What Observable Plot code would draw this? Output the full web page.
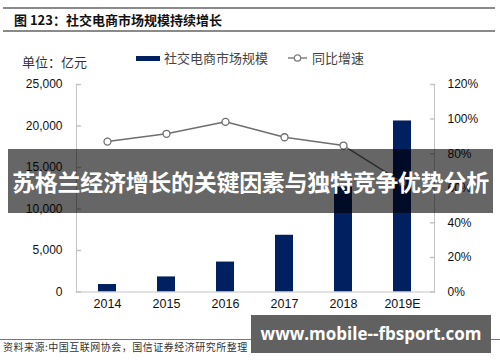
<!DOCTYPE html>
<html>
<head>
<meta charset="utf-8">
<script src="https://cdn.jsdelivr.net/npm/d3@7"></script>
<script src="https://cdn.jsdelivr.net/npm/@observablehq/plot@0.6"></script>
<style>
  html, body { margin: 0; padding: 0; background: #fff; }
  #wrap { position: relative; width: 500px; height: 362px; overflow: hidden; font-family: "Noto Sans CJK SC", sans-serif; }
  #chart { position: absolute; left: 0; top: 0; }
  .abs { position: absolute; white-space: nowrap; }
</style>
</head>
<body>
<div id="wrap">
  <div id="chart"></div>
  <div class="abs" style="left:3px;top:7px;width:492px;height:1.5px;background:#8a8a8a"></div>
  <div class="abs" style="left:3px;top:30px;width:492px;height:1.5px;background:#8a8a8a"></div>
  <div class="abs" id="title" style="left:14px;top:10px;font-size:13px;font-weight:bold;color:#111;line-height:19px"></div>
  <div class="abs" id="unit" style="left:22px;top:53px;font-size:13px;color:#333;line-height:18px"></div>
  <div class="abs" style="left:136px;top:56px;width:24px;height:5px;background:#002060"></div>
  <div class="abs" id="leg1" style="left:164px;top:49px;font-size:13px;color:#444;line-height:18px"></div>
  <svg class="abs" style="left:287px;top:53px" width="22" height="10">
    <line x1="1" y1="5" x2="20" y2="5" stroke="#7f7f7f" stroke-width="1.5"/>
    <circle cx="10.5" cy="5" r="3.2" fill="#fff" stroke="#7f7f7f" stroke-width="1.3"/>
  </svg>
  <div class="abs" id="leg2" style="left:312px;top:49px;font-size:13px;color:#444;line-height:18px"></div>
  <div class="abs" id="band" style="left:8px;top:149px;width:485px;height:64px;background:rgba(0,0,0,0.6);color:#fff;font-weight:bold;font-size:23px;line-height:64px;text-align:center;letter-spacing:-0.3px"></div>
  <div class="abs" style="left:0px;top:339px;width:500px;height:1px;background:#777"></div>
  <div class="abs" id="source" style="left:3px;top:340px;font-size:10px;color:#333;line-height:14px;letter-spacing:0.5px"></div>
  <div class="abs" id="wm" style="left:251px;top:315px;width:240px;height:38px;background:#616161;color:#fff;font-family:'Open Sans',sans-serif;font-weight:bold;font-size:17px;line-height:38px;text-align:center"></div>
</div>
<script>
const titleText = "图 123：社交电商市场规模持续增长";
const unitText = "单位：亿元";
const seriesBar = "社交电商市场规模";
const seriesLine = "同比增速";
const overlayText = "苏格兰经济增长的关键因素与独特竞争优势分析";
const sourceText = "资料来源:中国互联网协会，国信证券经济研究所整理";
const watermark = "www.mobile--fbsport.com";

const years = ["2014", "2015", "2016", "2017", "2018", "2019E"];
const market = [900, 1818, 3608, 6836, 12624, 20606];
const growth = [87.0, 91.5, 98.4, 89.5, 84.7, 63.2];
const leftTicks = [0, 5000, 10000, 15000, 20000, 25000];
const rightTicks = [0, 20, 40, 60, 80, 100, 120];

document.getElementById("title").textContent = titleText;
document.getElementById("unit").textContent = unitText;
document.getElementById("leg1").textContent = seriesBar;
document.getElementById("leg2").textContent = seriesLine;
document.getElementById("band").textContent = overlayText;
document.getElementById("source").textContent = sourceText;
document.getElementById("wm").textContent = watermark;

const yMax = leftTicks[leftTicks.length - 1];
const pMax = rightTicks[rightTicks.length - 1];
const toLeft = p => p * yMax / pMax;

const data = years.map((y, i) => ({year: y, market: market[i], growth: growth[i]}));

const tickShape = {draw(ctx, l) { ctx.moveTo(0, 0); ctx.lineTo(0, -l); }};

const chart = Plot.plot({
  width: 500,
  height: 362,
  marginLeft: 76,
  marginRight: 66,
  marginTop: 84,
  marginBottom: 70.5,
  style: {fontFamily: "'Liberation Sans', Arial, sans-serif", fontSize: "12px", color: "#111", background: "transparent"},
  x: {type: "band", domain: years, paddingInner: 0.69, paddingOuter: 0.345, label: null},
  y: {domain: [0, yMax], label: null},
  marks: [
    Plot.barY(data, {x: "year", y: "market", fill: "#002060"}),
    Plot.frame({anchor: "left", stroke: "#c4c4c4"}),
    Plot.frame({anchor: "right", stroke: "#c4c4c4"}),
    Plot.frame({anchor: "bottom", stroke: "#c4c4c4"}),
    Plot.vector(leftTicks, {y: d => d, frameAnchor: "left", length: 4, rotate: 90, anchor: "start", shape: tickShape, stroke: "#c4c4c4"}),
    Plot.vector(rightTicks.map(toLeft), {y: d => d, frameAnchor: "right", length: 4, rotate: -90, anchor: "start", shape: tickShape, stroke: "#c4c4c4"}),
    Plot.line(data, {x: "year", y: d => toLeft(d.growth), stroke: "#6f6f6f", strokeWidth: 1.5}),
    Plot.dot(data, {x: "year", y: d => toLeft(d.growth), r: 3.5, fill: "#fff", stroke: "#6f6f6f", strokeWidth: 1.3}),
    Plot.axisY(leftTicks, {anchor: "left", tickSize: 0, tickPadding: 14, tickFormat: d3.format(","), label: null, fontSize: 12}),
    Plot.axisY(rightTicks.map(toLeft), {anchor: "right", tickSize: 0, tickPadding: 13, tickFormat: d => Math.round(d * pMax / yMax) + "%", label: null, fontSize: 12}),
    Plot.axisX({tickSize: 0, tickPadding: 7, label: null, fontSize: 12.5})
  ]
});
document.getElementById("chart").appendChild(chart);
</script>
</body>
</html>
